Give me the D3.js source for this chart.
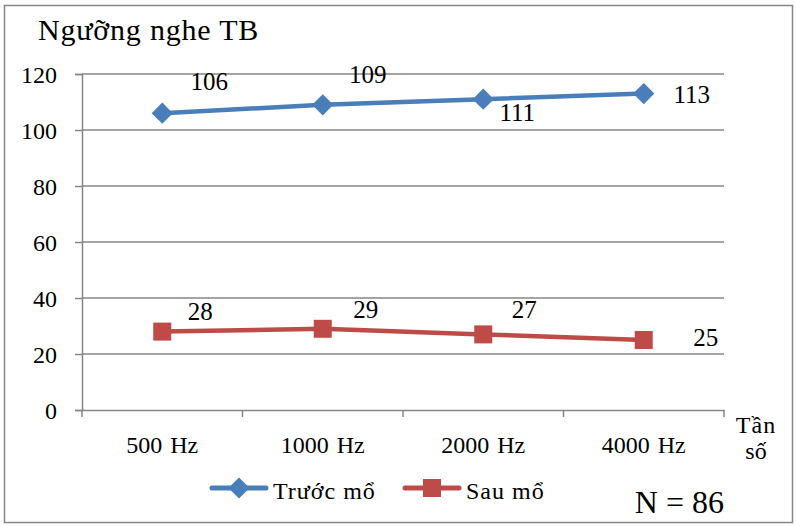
<!DOCTYPE html>
<html>
<head>
<meta charset="utf-8">
<script src="https://cdn.jsdelivr.net/npm/d3@7"></script>
<style>
  body { margin: 0; background: #fff; }
</style>
</head>
<body>
<div id="chart"></div>
<script>
var categories = ["500 Hz", "1000 Hz", "2000 Hz", "4000 Hz"];
var truocMo = [106, 109, 111, 113];
var sauMo = [28, 29, 27, 25];
var yTicks = [0, 20, 40, 60, 80, 100, 120];

// label nudges relative to each point (hand placed in the original)
var truocOffsets = [[47, -23], [45, -22], [34, 22], [48, 9]];
var sauOffsets = [[38, -12], [43, -11], [41, -16], [62, 6]];

var width = 796, height = 526;
var plot = { left: 82, right: 724, top: 74, bottom: 410 };
var blue = "#4A7EBB", red = "#BE4B48", gridColor = "#868686";
var serif = "'Liberation Serif', 'Times New Roman', 'DejaVu Serif', serif";

var svg = d3.select("#chart").append("svg")
    .attr("width", width)
    .attr("height", height)
    .style("font-family", serif);

svg.append("rect")
    .attr("x", 4.5).attr("y", 5.5)
    .attr("width", 788).attr("height", 517)
    .style("fill", "#fff")
    .style("stroke", gridColor)
    .style("stroke-width", "1.5px");

var x = d3.scaleBand().domain(categories).range([plot.left, plot.right]);
var y = d3.scaleLinear().domain([0, 120]).range([plot.bottom, plot.top]);

// gridlines
svg.append("g").selectAll("line")
    .data(yTicks.filter(function (d) { return d > 0; }))
  .enter().append("line")
    .attr("x1", plot.left).attr("x2", plot.right)
    .attr("y1", function (d) { return y(d); })
    .attr("y2", function (d) { return y(d); })
    .style("stroke", gridColor)
    .style("stroke-width", "1.5px");

var yAxis = svg.append("g")
    .attr("transform", "translate(" + plot.left + ",0)")
    .call(d3.axisLeft(y).tickValues(yTicks).tickSize(7).tickPadding(18));

var xAxis = svg.append("g")
    .attr("transform", "translate(0," + plot.bottom + ")")
    .call(d3.axisBottom(x).tickSize(0).tickPadding(26));

yAxis.attr("font-family", null).attr("font-size", null);
xAxis.attr("font-family", null).attr("font-size", null);
yAxis.selectAll("text").style("font-size", "24px").style("font-family", serif).attr("dy", "0.36em");
xAxis.selectAll("text").style("font-size", "24px").style("font-family", serif).style("word-spacing", "2px");

// category boundary ticks
svg.append("g").selectAll("line")
    .data(categories.concat(["end"]))
  .enter().append("line")
    .attr("x1", function (d, i) { return plot.left + i * x.step(); })
    .attr("x2", function (d, i) { return plot.left + i * x.step(); })
    .attr("y1", plot.bottom).attr("y2", plot.bottom + 7)
    .style("stroke", gridColor).style("stroke-width", "1.5px");

svg.selectAll(".domain, .tick line")
    .style("stroke", gridColor)
    .style("stroke-width", "1.5px");

function cx(i) { return x(categories[i]) + x.bandwidth() / 2; }

var line = d3.line()
    .x(function (d, i) { return cx(i); })
    .y(function (d) { return y(d); });

function drawSeries(values, color, shape, offsets) {
  svg.append("path")
      .datum(values)
      .attr("d", line)
      .style("fill", "none")
      .style("stroke", color)
      .style("stroke-width", "4.5px")
      .style("stroke-linejoin", "round");

  var s = shape === "square" ? 18 : 15;
  svg.append("g").selectAll("rect")
      .data(values)
    .enter().append("rect")
      .attr("x", -s / 2).attr("y", -s / 2)
      .attr("width", s).attr("height", s)
      .attr("transform", function (d, i) {
        return "translate(" + cx(i) + "," + y(d) + ")" + (shape === "square" ? "" : " rotate(45)");
      })
      .style("fill", color);

  svg.append("g").selectAll("text")
      .data(values)
    .enter().append("text")
      .attr("x", function (d, i) { return cx(i) + offsets[i][0]; })
      .attr("y", function (d, i) { return y(d) + offsets[i][1]; })
      .attr("text-anchor", "middle")
      .style("font-size", "25px")
      .text(function (d) { return d; });
}

drawSeries(truocMo, blue, "diamond", truocOffsets);
drawSeries(sauMo, red, "square", sauOffsets);

// title and axis names
svg.append("text")
    .attr("x", 38).attr("y", 40)
    .style("font-size", "30px")
    .style("letter-spacing", "0.8px")
    .text("Ngưỡng nghe TB");

svg.append("text")
    .attr("x", 756).attr("y", 433)
    .attr("text-anchor", "middle")
    .style("font-size", "24px")
    .style("letter-spacing", "1px")
    .text("Tần");
svg.append("text")
    .attr("x", 756).attr("y", 459)
    .attr("text-anchor", "middle")
    .style("font-size", "24px")
    .text("số");

svg.append("text")
    .attr("x", 724).attr("y", 513)
    .attr("text-anchor", "end")
    .style("font-size", "32px")
    .text("N = 86");

// legend
var legend = [
  { name: "Trước mổ", color: blue, x: 212, shape: "diamond" },
  { name: "Sau mổ", color: red, x: 405, shape: "square" }
];
var lg = svg.append("g").selectAll("g")
    .data(legend)
  .enter().append("g")
    .attr("transform", function (d) { return "translate(" + d.x + ",488)"; });
lg.append("line")
    .attr("x1", 0).attr("x2", 54)
    .style("stroke", function (d) { return d.color; })
    .style("stroke-width", "5px")
    .style("stroke-linecap", "round");
lg.append("rect")
    .attr("x", function (d) { return d.shape === "square" ? 18 : -7.5; })
    .attr("y", function (d) { return d.shape === "square" ? -9 : -7.5; })
    .attr("width", function (d) { return d.shape === "square" ? 18 : 15; })
    .attr("height", function (d) { return d.shape === "square" ? 18 : 15; })
    .attr("transform", function (d) { return d.shape === "square" ? "" : "translate(27,0) rotate(45)"; })
    .style("fill", function (d) { return d.color; });
lg.append("text")
    .attr("x", 61).attr("y", 11)
    .style("font-size", "24px")
    .style("letter-spacing", "1px")
    .text(function (d) { return d.name; });
</script>
</body>
</html>
